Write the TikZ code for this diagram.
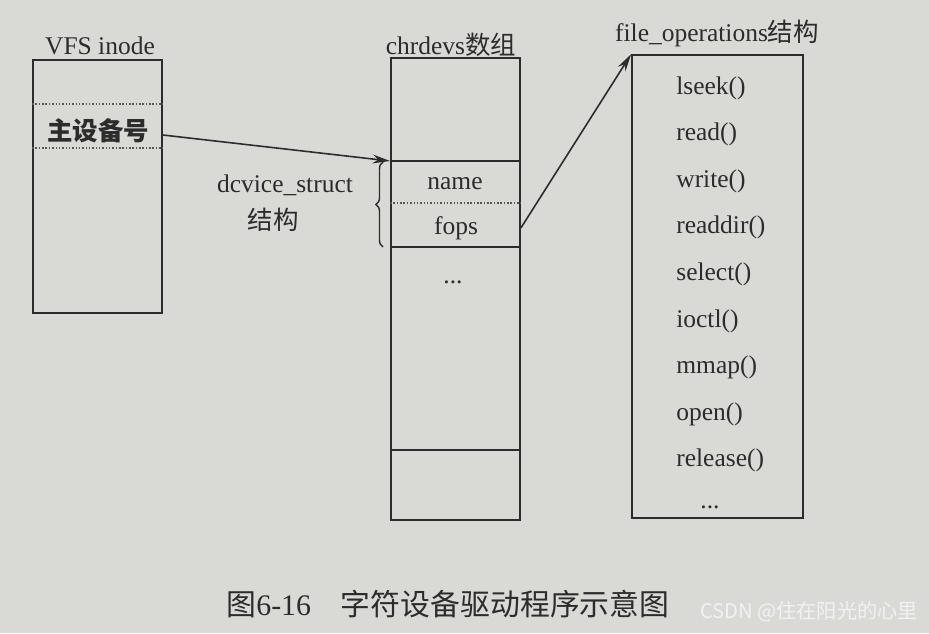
\documentclass[tikz,border=0pt]{standalone}
\usepackage{fontspec}
\setmainfont{Liberation Serif}
\newfontfamily\cjk{Noto Sans CJK SC}
\usetikzlibrary{arrows.meta, decorations.pathreplacing}
\definecolor{paper}{HTML}{D9D9D5}
\definecolor{ink}{HTML}{2C2C2C}
\definecolor{mark}{HTML}{F2F2F2}
\newcommand{\lblsize}{\fontsize{14.5}{17}\selectfont}

\begin{document}
\begin{tikzpicture}[x=0.02cm, y=-0.02cm,
      every node/.style={font=\lblsize, text=ink, inner sep=0pt},
      box/.style={draw=ink, line width=1pt, rectangle},
      field/.style={draw=ink, line width=1pt},
      dotline/.style={draw=ink!80, line width=0.9pt, densely dotted},
      ptr/.style={draw=ink, line width=0.9pt, -{Stealth[length=10pt, width=5pt]}}]
    % ---- paper
    \fill[paper] (0,0) rectangle (929,633);
    % ---- VFS inode
    \node[box, minimum width=2.58cm, minimum height=5.06cm] (inode) at (97.5,186.5) {};
    \node (inodelbl) at (100,46) {VFS inode};
    \draw[dotline] (inode.west |- 0,104) -- (inode.east |- 0,104);
    \draw[dotline] (inode.west |- 0,148) -- (inode.east |- 0,148);
    \node (major) at (98,131) {\cjk\bfseries 主设备号};
    % ---- chrdevs array
    \node[box, minimum width=2.58cm, minimum height=9.24cm] (chr) at (455.5,289) {};
    \node (chrlbl) at (451,45) {chrdevs{\cjk 数组}};
    \coordinate (devtop) at (chr.west |- 0,161);
    \draw[field] (devtop) -- (chr.east |- devtop);
    \draw[dotline] (chr.west |- 0,203) -- (chr.east |- 0,203);
    \draw[field] (chr.west |- 0,247) -- (chr.east |- 0,247);
    \draw[field] (chr.west |- 0,450) -- (chr.east |- 0,450);
    \node (name) at (455,184) {name};
    \node (fops) at (456,228) {fops};
    \node (more) at (453,282) {...};
    % ---- dcvice_struct brace
    \draw[ink, line width=0.8pt, decorate, decoration={brace, amplitude=4pt}]
      (383,247) -- (383,162);
    \node (devlbl) at (285,185) {dcvice\_struct};
    \node (devlbl2) at (273,220) {\cjk 结构};
    % ---- file_operations
    \node[box, minimum width=3.42cm, minimum height=9.26cm] (ops) at (717.5,286.5) {};
    \node (opslbl) at (717,33) {file\_operations{\cjk 结构}};
    \foreach \t [count=\i] in {lseek(), read(), write(), readdir(), select(),
        ioctl(), mmap(), open(), release()}
      \node[anchor=west] (op\i) at (676,{88+46.6*(\i-1)}) {\t};
    \node (opmore) at (710,507) {...};
    % ---- pointers
    \draw[ptr] (inode.east |- 0,135) -- (devtop);
    \draw[ptr] (chr.east |- fops) -- (ops.north west);
    % ---- caption
    \node (caption) at (448,604) {\fontsize{17}{20}\selectfont
      {\cjk 图}6-16\hspace{1em}{\cjk 字符设备驱动程序示意图}};
    \node[text=mark] (wm) at (809,612) {\fontsize{11.5}{14}\selectfont\cjk CSDN @住在阳光的心里};
\end{tikzpicture}
\end{document}
